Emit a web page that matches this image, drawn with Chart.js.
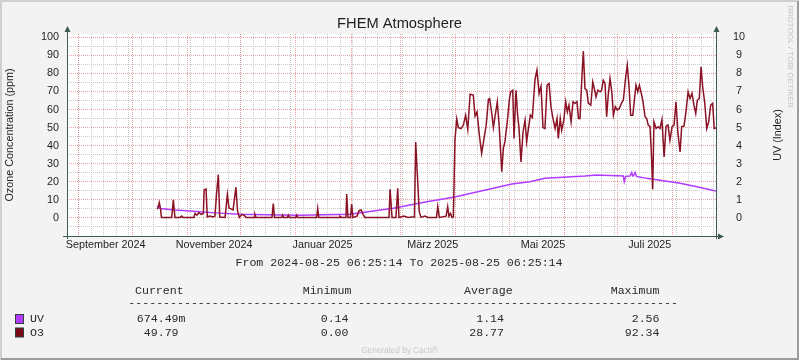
<!DOCTYPE html>
<html>
<head>
<meta charset="utf-8">
<title>FHEM Atmosphere</title>
<script src="https://cdn.jsdelivr.net/npm/chart.js@4.4.1/dist/chart.umd.min.js"></script>
<style>
  html, body { margin: 0; padding: 0; background: #f3f3f3; }
  canvas { display: block; }
</style>
</head>
<body>
<canvas id="graph" width="799" height="360"></canvas>
<script>
const START = Date.UTC(2024, 7, 25, 6, 25, 14);
const DAY = 86400000;
const SPAN_DAYS = 365;

// O3 (ppm): Tage seit Start / Wert
const o3Days = [
  50.6, 51.2, 51.9, 52.6, 53.1, 58.9, 59.8, 60.7, 63.6, 64.5, 65.2, 71.4, 72, 73.1, 74.2, 75.4,
  76.7, 77.1, 78.2, 78.9, 80.4, 82.1, 83.2, 84.2, 85.1, 85.9, 88.9, 90.2, 91.1, 92.2, 93.4, 95,
  95.9, 96.9, 98.4, 99.6, 100.7, 105.2, 105.7, 106.3, 115.3, 116, 116.7, 120.8, 121.3, 121.8,
  124, 124.5, 125, 128.7, 129.2, 129.7, 140.4, 141, 141.6, 153, 153.5, 154.7, 156.9, 157.3, 158,
  159.4, 160.1, 160.8, 163.1, 164.2, 165.4, 166.5, 167.6, 181.1, 181.7, 182.8, 185, 186, 186.7,
  189.5, 191.8, 194, 195.4, 196.1, 197, 198.1, 199.1, 201.3, 203, 207.8, 208.5, 209.4, 213.2,
  214.1, 214.8, 215.7, 216.5, 217.3, 218.2, 219.2, 220.1, 221.6, 222.9, 224.2, 225.4, 226.7,
  228.5, 229.5, 230.6, 231.9, 233.2, 234.7, 235.8, 237, 237.7, 238.9, 239.8, 240.7, 242, 243.1,
  244.5, 245.4, 246.3, 247.6, 248.8, 249.5, 250.7, 251.4, 252.5, 253.5, 254.2, 255.3, 256.5,
  257.6, 258.5, 259.4, 260.6, 261.7, 263.2, 264.3, 265.5, 266.6, 267.7, 268.8, 270, 271.1, 272.2,
  273.2, 274.5, 275.6, 276.3, 277.4, 278.2, 279.4, 280.5, 281.4, 282.3, 283.5, 284.6, 285.7,
  286.8, 287.7, 288.5, 289.5, 290.4, 291.3, 292.3, 293.2, 294.6, 295.7, 296.6, 297.5, 298.5,
  299.8, 300.7, 301.6, 302.6, 303.5, 304.4, 305.4, 306.4, 307.3, 308.4, 309.5, 310.6, 311.8,
  312.9, 314, 315.1, 316.1, 317, 318.2, 319.1, 320, 321, 321.9, 322.8, 323.8, 325.1, 326, 326.9,
  327.9, 328.6, 329.4, 330.1, 331.3, 332.4, 333.5, 334.6, 335.8, 336.9, 338, 339.1, 340.3, 341.4,
  342.5, 343.6, 344.8, 345.7, 347, 348.1, 349.3, 350.4, 351.5, 352.6, 353.6, 354.5, 355.6, 356.6,
  357.5, 358.7, 359.8, 360.9, 362, 363.1, 364, 365
];
const o3Values = [
  5, 5.5, 8.5, 5, 0.3, 0.3, 10, 0.3, 0.3, 1, 0.3, 0.3, 2.5, 1.5, 3, 2,
  2.5, 15.5, 16, 0.5, 1, 0.5, 1, 14.5, 24, 0.5, 0.3, 13, 5.5, 5, 4.5, 17,
  4, 0.3, 2, 1.5, 0.3, 0.3, 2, 0.3, 0.3, 8, 0.3, 0.3, 1.5, 0.3,
  0.3, 1.5, 0.3, 0.3, 1.5, 0.3, 0.3, 5.3, 0.3, 0.3, 1, 0.2, 0.2, 13.3, 0.2,
  0.2, 7.7, 0.2, 1, 4, 4.4, 2, 0.2, 0.2, 15.8, 0.2, 0.2, 16.4, 0.2,
  1, 0.3, 0.5, 0.5, 42, 24.7, 3.5, 0.3, 1, 0.3, 0.3, 6.3, 0.3, 1,
  6.3, 1, 2.5, 0.3, 0.5, 43.5, 54.7, 50, 49.5, 51.4, 56.9, 49, 68.5,
  68, 56.4, 58.7, 45.9, 35.7, 45, 51.7, 65.6, 66.1, 57.8, 50, 56, 64.3, 50.5,
  25.6, 38.5, 42.2, 53.2, 65.6, 69.8, 70.7, 44, 70.7, 56, 50, 31, 47.7,
  54.1, 42.2, 48.6, 56.9, 55.6, 76.6, 81.8, 68.9, 72.9, 50, 49.5, 73.5, 74.4, 61.5,
  55.6, 49.5, 55, 44, 55, 48.6, 54.1, 64.3, 58.7, 62.4, 53.2, 64.3, 63.4,
  64.3, 55, 55, 76.2, 92.3, 71.6, 70.7, 63.4, 62.4, 75.3, 71.6, 67, 70.7,
  69.8, 70.7, 76.2, 74.4, 56, 68, 77.2, 69.8, 56.9, 61.5, 59.7, 60.6, 63.4,
  65.2, 76.2, 84.5, 72.6, 56.9, 56.9, 65.2, 73.5, 69.8, 73.5, 69.8, 65.2, 56, 55, 51.4,
  50.5, 37.4, 15.8, 53.2, 49.5, 50.5, 49.5, 54.5, 33.7, 50.8, 51.4, 43, 50.5, 51.4,
  64.3, 46.8, 36.5, 50.5, 50.8, 58.7, 69.8, 66.1, 68.9, 62.4, 57.8, 65.2, 66.1, 83.6,
  72.6, 63.4, 49.5, 53.2, 62.4, 63.4, 49.5, 49.8
];

// UV (Index)
const uvDays = [
  50.6, 52.3, 60.7, 69.2, 83.2, 97.3, 111.4, 131, 159.2, 183.5, 202.3, 217.3, 239.8, 250.1,
  260.4, 268.8, 291.3, 297.9, 312.9, 313.4, 314.2, 316.6, 317.6, 318.1, 318.5, 319.5, 320.3,
  326, 335.4, 344.8, 354.2, 365
];
const uvValues = [
  0.66, 0.52, 0.44, 0.39, 0.28, 0.2, 0.17, 0.15, 0.21, 0.54, 0.9, 1.14, 1.64, 1.88,
  2.0, 2.19, 2.32, 2.38, 2.32, 2.01, 2.3, 2.32, 2.52, 2.32, 2.32, 2.52, 2.3,
  2.19, 2.06, 1.92, 1.73, 1.49
];

const monthStarts = [
  '2024-09-01', '2024-10-01', '2024-11-01', '2024-12-01', '2025-01-01', '2025-02-01',
  '2025-03-01', '2025-04-01', '2025-05-01', '2025-06-01', '2025-07-01', '2025-08-01'
];
const labelDates = ['2024-09-16', '2024-11-16', '2025-01-16', '2025-03-19', '2025-05-20', '2025-07-19'];
const labelTexts = ['September 2024', 'November 2024', 'Januar 2025', 'März 2025', 'Mai 2025', 'Juli 2025'];
const firstWeek = '2024-09-01';
const leftTickValues = [-5, 0, 5, 10, 15, 20, 25, 30, 35, 40, 45, 50, 55, 60, 65, 70, 75, 80, 85, 90, 95, 100];
const rightTickValues = [0, 1, 2, 3, 4, 5, 6, 7, 8, 9, 10];

const legendNames = ['UV', 'O3'];
const legendColors = ['#b13cff', '#7a0a16'];
const legendCurrent = ['674.49m', '49.79 '];
const legendMinimum = ['0.14', '0.00'];
const legendAverage = ['1.14', '28.77'];
const legendMaximum = ['2.56', '92.34'];

const toDay = s => (Date.parse(s + 'T00:00:00Z') - START) / DAY;

// Ticks der X-Achse: Wochen (grau), Monate (rot), Beschriftungen
function buildXTicks() {
  const ticks = [];
  for (let d = toDay(firstWeek); d <= SPAN_DAYS; d += 7) ticks.push({ value: d, kind: 'week' });
  monthStarts.forEach(m => ticks.push({ value: toDay(m), kind: 'month' }));
  labelDates.forEach((m, i) => ticks.push({ value: toDay(m), kind: 'label', text: labelTexts[i] }));
  return ticks.sort((a, b) => a.value - b.value);
}

const AXIS = '#3d5a55';
const RED_GRID = 'rgba(225, 130, 130, 0.75)';
const GREY_GRID = '#cacaca';
const SANS = '"Liberation Sans", Arial, sans-serif';
const MONO = '"Liberation Mono", "Courier New", monospace';

const rrdFrame = {
  id: 'rrdFrame',
  beforeDraw(chart) {
    const { ctx, chartArea: a, width, height } = chart;
    ctx.save();
    ctx.fillStyle = '#f3f3f3';
    ctx.fillRect(0, 0, width, height);
    ctx.fillStyle = '#ffffff';
    ctx.fillRect(a.left, a.top, a.right - a.left, a.bottom - a.top);
    ctx.restore();
  },
  afterDraw(chart) {
    const { ctx, chartArea: a, width, height } = chart;
    ctx.save();

    // Achsen mit Pfeilen
    ctx.strokeStyle = AXIS;
    ctx.fillStyle = AXIS;
    ctx.lineWidth = 1;
    ctx.beginPath();
    ctx.moveTo(a.left + 0.5, a.bottom + 3); ctx.lineTo(a.left + 0.5, a.top - 4);
    ctx.moveTo(a.right + 0.5, a.bottom + 3); ctx.lineTo(a.right + 0.5, a.top - 4);
    ctx.moveTo(a.left - 4, a.bottom + 0.5); ctx.lineTo(a.right + 5, a.bottom + 0.5);
    ctx.stroke();
    [a.left + 0.5, a.right + 0.5].forEach(x => {
      ctx.beginPath();
      ctx.moveTo(x, a.top - 8); ctx.lineTo(x - 3, a.top - 2); ctx.lineTo(x + 3, a.top - 2);
      ctx.closePath(); ctx.fill();
    });
    ctx.beginPath();
    ctx.moveTo(a.right + 8, a.bottom + 0.5); ctx.lineTo(a.right + 2, a.bottom - 2.5); ctx.lineTo(a.right + 2, a.bottom + 3.5);
    ctx.closePath(); ctx.fill();

    // Titel
    ctx.fillStyle = '#1e1e1e';
    ctx.font = '14.7px ' + SANS;
    ctx.textAlign = 'center';
    ctx.textBaseline = 'alphabetic';
    ctx.fillText('FHEM Atmosphere', 399.5, 28);

    // Achsenbeschriftungen
    const midY = (a.top + a.bottom) / 2;
    ctx.font = '10.8px ' + SANS;
    ctx.textBaseline = 'middle';
    ctx.save();
    ctx.translate(10.5, midY); ctx.rotate(-Math.PI / 2);
    ctx.fillText('Ozone Concentration (ppm)', 0, 0);
    ctx.restore();
    ctx.save();
    ctx.translate(778.5, midY); ctx.rotate(-Math.PI / 2);
    ctx.fillText('UV (Index)', 0, 0);
    ctx.restore();

    // Wasserzeichen
    ctx.fillStyle = '#c4c4c4';
    ctx.font = '8.1px ' + SANS;
    ctx.save();
    ctx.translate(790, 56.5); ctx.rotate(Math.PI / 2);
    ctx.fillText('RRDTOOL / TOBI OETIKER', 0, 0);
    ctx.restore();
    ctx.fillStyle = '#c8c8c8';
    ctx.font = '8.2px ' + SANS;
    ctx.fillText('Generated by Cacti®', 399.5, 351);

    // Zeitraum
    ctx.fillStyle = '#2a2a2a';
    ctx.font = '11.6px ' + MONO;
    ctx.fillText('From 2024-08-25 06:25:14 To 2025-08-25 06:25:14', 399, 263);

    // Legende
    ctx.textAlign = 'left';
    ctx.fillText('Current', 135, 291);
    ctx.fillText('Minimum', 302.7, 291);
    ctx.fillText('Average', 464, 291);
    ctx.fillText('Maximum', 610.7, 291);
    ctx.fillText('-'.repeat(79), 128.3, 303);
    const rowY = [319, 332.5];
    legendNames.forEach((name, i) => {
      const y = rowY[i];
      ctx.fillStyle = legendColors[i];
      ctx.fillRect(15.5, y - 4.5, 8, 9);
      ctx.strokeStyle = '#2f3f3f';
      ctx.strokeRect(15.5, y - 4.5, 8, 9);
      ctx.fillStyle = '#2a2a2a';
      ctx.textAlign = 'left';
      ctx.fillText(name, 30, y);
      ctx.textAlign = 'right';
      ctx.fillText(legendCurrent[i], 185.5, y);
      ctx.fillText(legendMinimum[i], 348.5, y);
      ctx.fillText(legendAverage[i], 504, y);
      ctx.fillText(legendMaximum[i], 659.5, y);
    });

    // Rahmen
    ctx.lineWidth = 2;
    ctx.strokeStyle = '#d0d0d0';
    ctx.beginPath();
    ctx.moveTo(1, height); ctx.lineTo(1, 1); ctx.lineTo(width, 1);
    ctx.stroke();
    ctx.strokeStyle = '#9c9c9c';
    ctx.beginPath();
    ctx.moveTo(1, height - 1); ctx.lineTo(width - 1, height - 1); ctx.lineTo(width - 1, 1);
    ctx.stroke();
    ctx.restore();
  }
};

const o3Points = o3Days.map((d, i) => ({ x: d, y: o3Values[i] }));
const uvPoints = uvDays.map((d, i) => ({ x: d, y: uvValues[i] }));

new Chart(document.getElementById('graph'), {
  type: 'line',
  data: {
    datasets: [
      {
        label: 'O3',
        data: o3Points,
        yAxisID: 'y',
        borderColor: '#8a1225',
        borderWidth: 1.5,
        pointRadius: 0,
        tension: 0,
        order: 0
      },
      {
        label: 'UV',
        data: uvPoints,
        yAxisID: 'y2',
        borderColor: '#b13cff',
        borderWidth: 1.5,
        pointRadius: 0,
        tension: 0,
        order: 1
      }
    ]
  },
  options: {
    responsive: false,
    devicePixelRatio: 1,
    animation: false,
    events: [],
    layout: { padding: { top: 34, bottom: 104, left: 0, right: 0 } },
    plugins: { legend: { display: false }, tooltip: { enabled: false }, title: { display: false } },
    scales: {
      x: {
        type: 'linear',
        min: 0,
        max: SPAN_DAYS,
        afterBuildTicks: scale => { scale.ticks = buildXTicks(); },
        afterFit: scale => { scale.height = 20; },
        border: { display: false, dash: [1, 1] },
        grid: {
          drawTicks: false,
          color: c => c.tick && c.tick.kind === 'month' ? RED_GRID : GREY_GRID,
          lineWidth: c => c.tick && c.tick.kind === 'label' ? 0 : 1
        },
        ticks: {
          autoSkip: false,
          maxRotation: 0,
          padding: 3,
          color: '#1e1e1e',
          font: { family: SANS, size: 10.8 },
          callback: (v, i, ticks) => ticks[i].kind === 'label' ? ticks[i].text : ''
        }
      },
      y: {
        position: 'left',
        min: -10,
        max: 101.8,
        afterBuildTicks: scale => { scale.ticks = leftTickValues.map(v => ({ value: v })); },
        afterFit: scale => { scale.width = 67; },
        border: { display: false, dash: [1, 1] },
        grid: {
          drawTicks: false,
          color: c => c.tick && c.tick.value % 10 === 0 ? RED_GRID : GREY_GRID
        },
        ticks: {
          autoSkip: false,
          padding: 8,
          color: '#1e1e1e',
          font: { family: SANS, size: 10.8 },
          callback: v => (v % 10 === 0 && v >= 0) ? v : ''
        }
      },
      y2: {
        position: 'right',
        min: -1,
        max: 10.18,
        afterBuildTicks: scale => { scale.ticks = rightTickValues.map(v => ({ value: v })); },
        afterFit: scale => { scale.width = 83; },
        border: { display: false },
        grid: { display: false, drawTicks: false },
        ticks: {
          autoSkip: false,
          padding: 17,
          crossAlign: 'center',
          color: '#1e1e1e',
          font: { family: SANS, size: 10.8 },
          callback: v => v
        }
      }
    }
  },
  plugins: [rrdFrame]
});
</script>
</body>
</html>
